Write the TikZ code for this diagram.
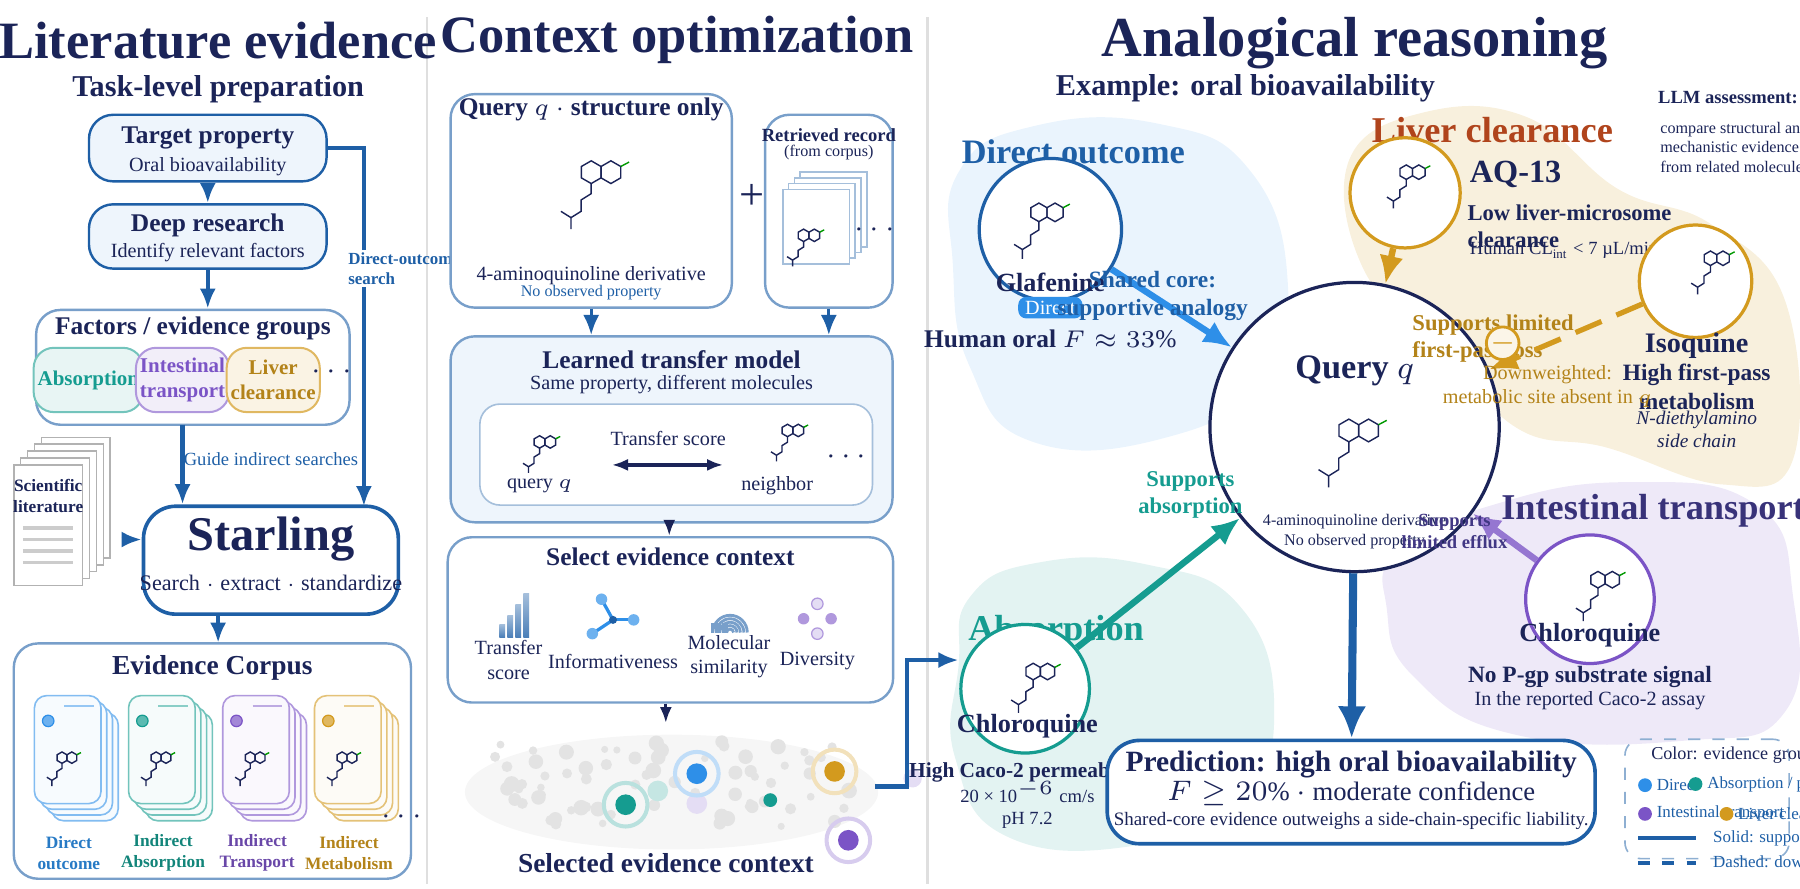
\documentclass[tikz,border=0pt]{standalone}
\usepackage{fontspec}
\setmainfont{Liberation Serif}
\usetikzlibrary{positioning,arrows.meta,calc}
\newcommand\fsz[1]{\fontsize{#1pt}{\dimexpr#1pt*12/10\relax}\selectfont}
\definecolor{navy}{HTML}{1B2458}
\definecolor{mblue}{HTML}{1E5FA6}
\definecolor{lblue}{HTML}{EEF5FC}
\definecolor{sky}{HTML}{2E8FE8}
\definecolor{teal}{HTML}{159C90}
\definecolor{purp}{HTML}{7B54C6}
\definecolor{gold}{HTML}{D39A1E}
\definecolor{brick}{HTML}{B0441C}
\tikzset{quin/.pic={
  \draw[line width=0.35pt,navy] (0,0) +(90:9) -- +(30:9) -- +(-30:9) -- +(-90:9) -- +(-150:9) -- +(150:9) -- cycle;
  \draw[line width=0.35pt,navy] (15.6,0) +(90:9) -- +(30:9) -- +(-30:9) -- +(-90:9) -- +(-150:9) -- +(150:9) -- cycle;
  \draw[line width=0.35pt,navy] (0,9) -- (0,17) -- (-8,22) -- (-8,31) -- (-16,36) -- (-24,31) (-16,36) -- (-16,45);
  \draw[line width=0.35pt,green!60!black] (23.4,-4.5) -- (30,-8);
}}
\begin{document}
\begin{tikzpicture}[x=0.1mm,y=-0.1mm, node distance=10,
  box/.style={draw=mblue!60, fill=lblue, rounded corners=6, line width=0.6pt},
  darkbox/.style={draw=mblue, fill=white, rounded corners=8, line width=0.9pt},
  ttl/.style={font=\bfseries\fsz{13}, text=navy},
  hd/.style={font=\bfseries\fsz{6.3}, text=navy},
  txt/.style={font=\fsz{5}, text=navy, align=center},
  sm/.style={font=\fsz{4}, text=navy, align=center},
  grp/.style={rounded corners=5, line width=0.5pt, minimum width=7.4mm, minimum height=5.6mm, font=\bfseries\fsz{5.2}, align=center, inner sep=1pt},
  flow/.style={-{Latex[length=5pt,width=4pt]}, mblue, line width=1.1pt},
  thin/.style={-{Latex[length=4pt,width=3pt]}, navy, line width=0.8pt},
  molring/.style={circle, draw, fill=white, line width=0.8pt, minimum size=#1},
  blob/.style={fill=#1, draw=none}]
\useasboundingbox (0,0) rectangle (1568,774);
\draw[gray!25, line width=0.6pt] (372,15) -- (372,770) (808,15) -- (808,770);

% ---------- literature evidence
\node[ttl] at (190,35) {Literature evidence};
\node[font=\bfseries\fsz{7.5}, text=navy] at (190,78) {Task-level preparation};
\node[box, draw=mblue, minimum width=20.7mm, minimum height=5.8mm] (tgt) at (181,129) {};
\node[hd] at (181,120) {Target property};
\node[txt] at (181,145) {Oral bioavailability};
\node[box, draw=mblue, minimum width=20.7mm, minimum height=5.6mm] (deep) at (181,206) {};
\node[hd] at (181,196) {Deep research};
\node[txt] at (181,220) {Identify relevant factors};
\node[box, fill=white, minimum width=27.3mm, minimum height=10mm] (factors) at (168,320) {};
\node[hd] at (168,286) {Factors / evidence groups};
\node[grp, draw=teal!60, fill=teal!10, text=teal] (absb) at (77,331) {Absorption};
\node[grp, draw=purp!60, fill=purp!10, text=purp] (intb) at (159,331) {Intestinal\\transport};
\node[grp, draw=gold!70, fill=gold!12, text=gold!85!black] (livb) at (238,331) {Liver\\clearance};
\node[font=\bfseries\fsz{7}, text=navy] at (289,324) {$\cdots$};
\node[darkbox, minimum width=22.2mm, minimum height=9.4mm] (starling) at (236,488) {};
\node[font=\bfseries\fsz{12}, text=navy] at (236,470) {Starling};
\node[txt, font=\fsz{5.5}] at (236,508) {Search $\cdot$ extract $\cdot$ standardize};
\foreach \k in {4,3,2,1,0}
  \draw[gray!60, fill=white, line width=0.4pt] (12+\k*6,405-\k*6) rectangle (72+\k*6,510-\k*6);
\node[font=\bfseries\fsz{4.3}, text=navy, align=center] (lit) at (42,432) {Scientific\\literature};
\foreach \yy in {460,470,480,490} \draw[gray!40, line width=0.8pt] (20,\yy) -- (64,\yy);
\coordinate (litR) at (106,470);
\draw[flow] (litR) -- (starling.west |- litR);
\draw[flow] (tgt) -- (deep);
\draw[flow] (deep) -- (factors.north -| deep);
\coordinate (fac) at (159,370);
\draw[flow] (fac) -- (starling.north -| fac);
\node[txt, font=\fsz{4.6}, text=mblue] at (236,400) {Guide indirect searches};
\coordinate (dos) at (317,441);
\draw[mblue, line width=1.1pt] (tgt.east) -- (317,129) -- (317,218);
\draw[flow] (317,250) -- (dos);
\node[font=\bfseries\fsz{4.2}, text=mblue, align=left, anchor=west] at (291,234) {Direct-outcome\\search};
% corpus
\node[box, fill=white, minimum width=34.6mm, minimum height=20.5mm] (corpus) at (185,663) {};
\draw[flow] (starling.south -| 190,0) -- (190,560);
\node[hd, font=\bfseries\fsz{6.8}] at (185,582) {Evidence Corpus};
\foreach \cx/\col/\lab in {30/sky/{Direct\\outcome}, 112/teal/{Indirect\\Absorption}, 194/purp/{Indirect\\Transport}, 274/gold/{Indirect\\Metabolism}}{
  \foreach \k in {3,2,1,0}
    \draw[\col!60, fill=\col!4, rounded corners=3, line width=0.4pt] (\cx+\k*5,606+\k*5) rectangle (\cx+58+\k*5,700+\k*5);
  \fill[\col!70, draw=\col, line width=0.3pt] (\cx+12,628) circle (5);
  \draw[\col!50, line width=0.6pt] (\cx+26,615) -- (\cx+52,615);
  \pic[scale=0.55] at (\cx+24,660) {quin};
  \node[font=\bfseries\fsz{4.3}, text=\col!85!black, align=center] at (\cx+30,743) {\lab};
}
\node[font=\bfseries\fsz{7}, text=navy] at (350,712) {$\cdots$};

% ---------- context optimization
\node[ttl] at (590,35) {Context optimization};
\node[box, fill=white, minimum width=24.5mm, minimum height=18.6mm] (query) at (515,175) {};
\node[hd] at (515,95) {Query $q$ $\cdot$ structure only};
\pic[scale=1.1] at (515,150) {quin};
\node[txt] at (515,240) {4-aminoquinoline derivative};
\node[sm, text=mblue] at (515,255) {No observed property};
\node[font=\fsz{11}, text=navy] at (655,172) {+};
\node[box, fill=white, minimum width=11.1mm, minimum height=16.8mm] (record) at (722,184) {};
\node[font=\bfseries\fsz{4.6}, text=navy] at (722,118) {Retrieved record};
\node[sm] at (722,133) {(from corpus)};
\foreach \k in {3,2,1,0}
  \draw[mblue!40, fill=white, line width=0.4pt] (682+\k*5,165-\k*5) rectangle (740+\k*5,230-\k*5);
\pic[scale=0.6] at (700,205) {quin};
\node[font=\fsz{7}, text=navy] at (762,200) {$\cdots$};
\node[box, minimum width=38.5mm, minimum height=16.2mm] (ltm) at (585,374) {};
\draw[flow, line width=0.8pt] (query.south) -- (ltm.north -| query.south);
\draw[flow, line width=0.8pt] (record.south) -- (ltm.north -| record.south);
\node[hd] at (585,313) {Learned transfer model};
\node[txt] at (585,335) {Same property, different molecules};
\node[draw=mblue!40, fill=white, rounded corners=5, minimum width=34.2mm, minimum height=8.8mm] (inner) at (589,396) {};
\pic[scale=0.6] at (470,385) {quin};
\node[txt] (qq) at (470,423) {query $q$};
\pic[scale=0.6] at (686,375) {quin};
\node[txt] (nb) at (677,423) {neighbor};
\node[txt] at (582,382) {Transfer score};
\draw[{Latex[length=4pt]}-{Latex[length=4pt]}, navy, line width=0.8pt] (533,405) -- (630,405);
\node[font=\fsz{7}, text=navy] at (737,398) {$\cdots$};
\node[box, fill=white, minimum width=38.8mm, minimum height=14.4mm] (sel) at (584,540) {};
\draw[thin] (ltm.south -| 583,0) -- (sel.north -| 583,0);
\node[hd] at (584,485) {Select evidence context};
% icons
\foreach \h [count=\i] in {6,10,15,20} \shade[top color=mblue!40, bottom color=mblue!80] (428+\i*7,555-\h*1.9) rectangle (433+\i*7,555);
\node[txt, font=\fsz{5}] at (443,575) {Transfer\\score};
\foreach \a in {(-10,-18),(-18,12),(18,0)} \draw[sky, line width=0.8pt] (534,540) -- ++\a;
\foreach \a in {(-10,-18),(-18,12),(18,0)} \fill[sky!70] (534,540) ++\a circle (5);
\fill[mblue] (534,540) circle (3.5);
\node[txt] at (534,576) {Informativeness};
\foreach \r in {3,6,9,12,15} \draw[mblue!60, line width=0.7pt] (636,548) ++(-\r,3) arc[start angle=180, end angle=360, radius=\r];
\foreach \r in {3,6,9,12,15} \draw[mblue!60, line width=0.7pt] (636,548) ++(-\r,3) -- ++(0,-8);
\node[txt, font=\fsz{5}] at (635,572) {Molecular\\similarity};
\fill[purp!20, draw=purp!60, line width=0.3pt] (712,526) circle (5) (712,552) circle (5);
\fill[purp!60] (700,539) circle (5) (724,539) circle (5);
\node[txt] at (712,576) {Diversity};
\coordinate (selS) at (580,630);
\draw[thin] (sel.south -| selS) -- (selS);
\fill[gray!7] (585,690) ellipse (180 and 50);
\pgfmathsetseed{7}
\foreach \i in {1,...,70}{
  \pgfmathsetmacro\px{430+310*rnd}
  \pgfmathsetmacro\py{645+75*rnd}
  \pgfmathsetmacro\pr{3+4*rnd}
  \fill[gray!22] (\px,\py) circle (\pr);
}
\fill[purp!20] (607,700) circle (9) (795,678) circle (8);
\fill[teal!25] (573,689) circle (9);
\foreach \x/\y/\c in {607/674/sky,727/672/gold,545/701/teal,739/732/purp}{
  \draw[\c!30, line width=1pt] (\x,\y) circle (19);
  \fill[\c] (\x,\y) circle (9);
}
\fill[teal] (671,697) circle (6);
\node[hd, font=\bfseries\fsz{6.8}] (selctx) at (580,752) {Selected evidence context};
\coordinate (cl) at (762,685);
\draw[mblue, line width=1.1pt, -{Latex[length=5pt,width=4pt]}] (cl) -- (790,685) -- (790,575) -- (835,575);

% ---------- analogical reasoning
\node[ttl, font=\bfseries\fsz{14}] at (1180,38) {Analogical reasoning};
\node[font=\bfseries\fsz{7.5}, text=navy] at (1085,77) {Example: oral bioavailability};
\node[font=\bfseries\fsz{4.6}, text=navy, anchor=west] at (1432,85) {LLM assessment:};
\node[sm, align=left, anchor=north west] at (1434,94) {compare structural and\\mechanistic evidence\\from related molecules.};
% blobs
\fill[sky!10] plot[smooth cycle, tension=0.8] coordinates {(835,150) (900,110) (1010,108) (1090,150) (1122,250) (1100,330) (1020,380) (900,385) (845,320) (830,230)};
\fill[gold!15] plot[smooth cycle, tension=0.7] coordinates {(1175,140) (1240,98) (1330,102) (1410,165) (1490,195) (1555,262) (1562,400) (1500,422) (1400,390) (1320,372) (1250,295) (1188,235)};
\fill[teal!12] plot[smooth cycle, tension=0.8] coordinates {(845,520) (905,490) (1000,492) (1080,528) (1110,620) (1080,700) (1000,735) (880,730) (832,660) (835,580)};
\fill[purp!13] plot[smooth cycle, tension=0.8] coordinates {(1218,480) (1300,440) (1420,420) (1530,440) (1562,520) (1555,620) (1470,645) (1320,640) (1232,590) (1208,530)};
% direct
\node[font=\bfseries\fsz{8.5}, text=mblue] at (935,132) {Direct outcome};
\node[molring=12.4mm, draw=mblue] (glaf) at (915,200) {};
\pic[scale=0.9] at (905,185) {quin};
\node[hd, font=\bfseries\fsz{6.5}] at (915,246) {Glafenine};
\node[fill=sky, text=white, rounded corners=2, font=\fsz{5}, minimum width=5.6mm, minimum height=1.6mm, inner sep=1] at (915,268) {Direct};
\node[hd] at (915,295) {Human oral $F\approx 33\%$};
% query
\node[molring=25.2mm, draw=navy] (qC) at (1180,372) {};
\node[font=\bfseries\fsz{8.5}, text=navy] at (1180,323) {Query $q$};
\pic[scale=1.1] at (1175,375) {quin};
\node[sm] at (1180,463) {4-aminoquinoline derivative\\No observed property};
\draw[-{Latex[length=7pt,width=6pt]}, sky, line width=1.6pt] (glaf) -- (qC);
\node[font=\bfseries\fsz{5.8}, text=mblue, align=center] at (1004,258) {Shared core:\\supportive analogy};
% liver
\node[font=\bfseries\fsz{9}, text=brick] at (1300,113) {Liver clearance};
\node[molring=9.6mm, draw=gold] (aq) at (1224,168) {};
\pic[scale=0.7] at (1225,150) {quin};
\node[font=\bfseries\fsz{8}, text=navy, anchor=west] at (1268,152) {AQ-13};
\node[font=\bfseries\fsz{5.6}, text=navy, anchor=north west, align=left] at (1266,166) {Low liver-microsome\\clearance};
\node[font=\fsz{4.6}, text=navy, anchor=west] at (1268,218) {Human CL\textsubscript{int} < 7 µL/min/mg};
\draw[-{Latex[length=7pt,width=6pt]}, gold, line width=1.6pt] (aq) -- (qC);
\node[font=\bfseries\fsz{5.6}, text=gold!85!black, align=left, anchor=west] at (1218,295) {Supports limited\\first-pass loss};
\node[molring=9.8mm, draw=gold] (iso) at (1477,245) {};
\pic[scale=0.7] at (1490,225) {quin};
\node[font=\bfseries\fsz{7}, text=navy] at (1478,301) {Isoquine};
\node[font=\bfseries\fsz{5.8}, text=navy, align=center] at (1478,337) {High first-pass\\metabolism};
\node[font=\itshape\fsz{4.8}, text=navy, align=center] at (1478,374) {N-diethylamino\\side chain};
\draw[-{Latex[length=7pt,width=6pt]}, gold, line width=1.3pt, dash pattern=on 7pt off 4pt] (iso) -- (qC);
\node[circle, draw=gold, fill=gold!10, line width=0.7pt, minimum size=2.4mm, inner sep=0, text=gold, font=\fsz{7}] (minus) at (1309,299) {$-$};
\node[font=\fsz{5}, text=gold!85!black, align=center] at (1348,337) {Downweighted:\\metabolic site absent in $q$};
% absorption
\node[font=\bfseries\fsz{9}, text=teal] at (920,550) {Absorption};
\node[molring=11.2mm, draw=teal] (chla) at (893,600) {};
\pic[scale=0.8] at (900,585) {quin};
\node[hd, font=\bfseries\fsz{6.5}] at (895,633) {Chloroquine};
\node[hd, font=\bfseries\fsz{5.3}] at (895,673) {High Caco-2 permeability};
\node[sm, font=\fsz{4.6}] at (895,701) {20 × 10$^{-6}$ cm/s\\pH 7.2};
\draw[-{Latex[length=7pt,width=6pt]}, teal, line width=1.6pt] (chla) -- (qC);
\node[font=\bfseries\fsz{5.6}, text=teal, align=center] at (1037,431) {Supports\\absorption};
% intestinal
\node[font=\bfseries\fsz{9}, text=navy!70!purp] at (1440,445) {Intestinal transport};
\node[molring=11.2mm, draw=purp] (chli) at (1385,522) {};
\pic[scale=0.8] at (1392,505) {quin};
\node[hd, font=\bfseries\fsz{6.5}] at (1385,553) {Chloroquine};
\node[hd, font=\bfseries\fsz{5.8}] at (1385,590) {No P-gp substrate signal};
\node[txt] at (1385,610) {In the reported Caco-2 assay};
\draw[-{Latex[length=7pt,width=6pt]}, purp!80, line width=1.6pt] (chli) -- (qC);
\node[font=\bfseries\fsz{4.6}, text=navy!60!purp, align=center] at (1267,463) {Supports\\limited efflux};
% prediction
\node[darkbox, minimum width=42.5mm, minimum height=9mm] (pred) at (1177,690) {};
\draw[-{Latex[length=8pt,width=7pt]}, mblue, line width=2pt] (qC) -- (pred);
\node[hd, font=\bfseries\fsz{7.3}] at (1177,666) {Prediction: high oral bioavailability};
\node[txt, font=\fsz{6.6}] at (1177,691) {$F\geq 20\%$ $\cdot$ moderate confidence};
\node[sm, font=\fsz{4.7}] at (1177,715) {Shared-core evidence outweighs a side-chain-specific liability.};
% legend
\node[draw=mblue!50, dashed, rounded corners=4, minimum width=14.3mm, minimum height=10.4mm] (legend) at (1487,696) {};
\node[sm, font=\fsz{4.5}, anchor=west] at (1426,658) {Color: evidence group};
\foreach \x/\y/\c/\l in {1433/684/sky/{Direct}, 1477/683/teal/{Absorption / permeability}, 1433/709/purp/{Intestinal transport}, 1504/709/gold/{Liver clearance}}{
  \fill[\c] (\x,\y) circle (6);
  \node[font=\fsz{4.2}, text=mblue, anchor=west, inner sep=1] at (\x+6,\y) {\l};
}
\draw[mblue, line width=1pt] (1427,730) -- (1477,730);
\node[font=\fsz{4.2}, text=mblue, anchor=west] at (1480,730) {Solid: supportive analogy};
\draw[mblue, line width=1pt, dashed] (1427,752) -- (1477,752);
\node[font=\fsz{4.2}, text=mblue, anchor=west] at (1480,752) {Dashed: downweighted};
\end{tikzpicture}
\end{document}
